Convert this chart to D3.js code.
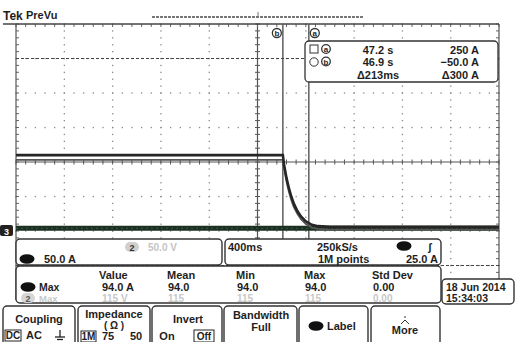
<!DOCTYPE html>
<html><head><meta charset="utf-8">
<script src="https://cdn.jsdelivr.net/npm/d3@7"></script>
<style>
html,body{margin:0;padding:0;background:#fff;}
svg text{font-family:"Liberation Sans",Arial,sans-serif;font-weight:bold;fill:#1e1e1e;}
</style></head>
<body><svg id="c" width="524" height="342"></svg>
<script>
// ---- data ----
const timeDivSec = 0.4;              // 400 ms / div
const ampsPerDiv = 50;               // 50.0 A / div
const traceTime = [0, 2.21, 2.22, 2.24, 2.26, 2.28, 2.30, 2.33, 2.36, 2.40, 2.45, 2.50, 2.60, 4.0];
const ch1Max    = [110, 110, 96, 77, 62, 50, 40, 29, 21, 14, 9, 7, 6, 6];
const ch1Min    = [103, 103, 92, 72, 57, 45, 35, 25, 17, 10, 5, 3, 2, 2];
const ch3Time   = [0, 4.0];
const ch3Amps   = [4, 4];
const cursorTimes = [2.425, 2.21];   // a, b
const cursorAmps  = [250, -50];      // a, b
const cursorNames = ["a", "b"];
const cursorReadTime = ["47.2 s", "46.9 s", "\u0394213ms"];
const cursorReadAmp  = ["250 A", "\u221250.0 A", "\u0394300 A"];
const measHeaders = ["Value", "Mean", "Min", "Max", "Std Dev"];
const measRow1 = ["94.0 A", "94.0", "94.0", "94.0", "0.00"];
const measRow2 = ["115 V", "115", "115", "115", "0.00"];
const buttonLabels = ["Coupling", "Impedance", "Invert", "Bandwidth", "Label", "More"];

const svg = d3.select("#c");
svg.append("rect").attr("width",524).attr("height",342).attr("fill","#fff");

const x = d3.scaleLinear().domain([0, 10*timeDivSec]).range([16, 499]);
const yDiv = d3.scaleLinear().domain([-4, 4]).range([300, 24]);
const yA = d3.scaleLinear().domain([-2*ampsPerDiv, 6*ampsPerDiv]).range([300, 24]);

// ---- graticule ----
const g = svg.append("g");
const dots = [];
for (let i = 1; i < 10; i++) {
  if (i === 5) continue;
  for (let k = 0; k <= 40; k++) dots.push([x(i*timeDivSec), yDiv(-4 + k/5)]);
}
for (let j = -3; j <= 3; j++) {
  if (j === 0) continue;
  for (let k = 0; k <= 50; k++) dots.push([x(k/5*timeDivSec), yDiv(j)]);
}
g.selectAll("rect.dot").data(dots).enter().append("rect")
  .attr("x", d => d[0]-0.6).attr("y", d => d[1]-0.6).attr("width",1.3).attr("height",1.3).attr("fill","#8a8a8a");
// center axes
g.append("line").attr("x1",x(0)).attr("x2",x(4)).attr("y1",yDiv(0)).attr("y2",yDiv(0)).attr("stroke","#555").attr("stroke-width",1.2);
g.append("line").attr("x1",x(2)).attr("x2",x(2)).attr("y1",yDiv(4)).attr("y2",yDiv(-4)).attr("stroke","#555").attr("stroke-width",1.2);
const ticksH = d3.range(0, 51).map(k => k/5*timeDivSec);
const ticksV = d3.range(0, 41).map(k => -4 + k/5);
g.selectAll("line.th").data(ticksH).enter().append("line")
  .attr("x1", d=>x(d)).attr("x2", d=>x(d)).attr("y1", yDiv(0)-2.5).attr("y2", yDiv(0)+2.5).attr("stroke","#555");
g.selectAll("line.tv").data(ticksV).enter().append("line")
  .attr("y1", d=>yDiv(d)).attr("y2", d=>yDiv(d)).attr("x1", x(2)-2.5).attr("x2", x(2)+2.5).attr("stroke","#555");
// border ticks
g.selectAll("line.bt").data(ticksH).enter().append("line")
  .attr("x1", d=>x(d)).attr("x2", d=>x(d)).attr("y1", yDiv(4)).attr("y2", yDiv(4)+3).attr("stroke","#666");
g.selectAll("line.bl").data(ticksV).enter().append("line")
  .attr("y1", d=>yDiv(d)).attr("y2", d=>yDiv(d)).attr("x1", x(0)).attr("x2", x(0)+3).attr("stroke","#666");
g.selectAll("line.br").data(ticksV).enter().append("line")
  .attr("y1", d=>yDiv(d)).attr("y2", d=>yDiv(d)).attr("x1", x(4)-3).attr("x2", x(4)).attr("stroke","#666");
g.append("line").attr("x1",3).attr("x2",x(4)).attr("y1",yDiv(4)).attr("y2",yDiv(4)).attr("stroke","#444").attr("stroke-width",1.5);
g.append("line").attr("x1",x(0)).attr("x2",x(0)).attr("y1",yDiv(4)).attr("y2",yDiv(-4)).attr("stroke","#555").attr("stroke-width",1.2);
g.append("line").attr("x1",x(4)).attr("x2",x(4)).attr("y1",yDiv(4)).attr("y2",yDiv(-4)).attr("stroke","#555").attr("stroke-width",1.2);

// ---- cursors ----
cursorTimes.forEach((t,i) => {
  svg.append("line").attr("x1",x(t)).attr("x2",x(t)).attr("y1",yDiv(4)).attr("y2",yDiv(-4))
    .attr("stroke","#5e5e5e").attr("stroke-width",1.5);
});
cursorAmps.forEach((a,i) => {
  svg.append("line").attr("x1",x(0)).attr("x2",x(4)).attr("y1",yA(a)).attr("y2",yA(a))
    .attr("stroke","#444").attr("stroke-width",1.2).attr("stroke-dasharray","3,2");
});
// cursor name badges
const badgeX = {a: x(cursorTimes[0])+6, b: x(cursorTimes[1])-6};
cursorNames.forEach(n => {
  const bx = badgeX[n];
  svg.append("circle").attr("cx",bx).attr("cy",33).attr("r",4.5).attr("fill","#fff").attr("stroke","#333").attr("stroke-width",1.3);
  svg.append("text").attr("x",bx).attr("y",36).attr("text-anchor","middle").attr("font-size",8).text(n);
});

// ---- traces ----
const ch1Data = traceTime.map((t,i)=>({t, hi:ch1Max[i], lo:ch1Min[i]}));
svg.append("path").datum(ch3Time.map((t,i)=>({t, v:ch3Amps[i]})))
  .attr("d", d3.line().x(d=>x(d.t)).y(d=>yA(d.v)))
  .attr("fill","none").attr("stroke","#1b3021").attr("stroke-width",5);
svg.append("path").datum(ch3Time.map((t,i)=>({t, v:ch3Amps[i]})))
  .attr("d", d3.line().x(d=>x(d.t)).y(d=>yA(d.v)))
  .attr("fill","none").attr("stroke","#3d5a44").attr("stroke-width",1).attr("stroke-dasharray","2,3");
svg.append("path").datum(ch1Data)
  .attr("d", d3.line().x(d=>x(d.t)).y(d=>yA(d.lo)))
  .attr("fill","none").attr("stroke","#555").attr("stroke-width",1.8);
svg.append("path").datum(ch1Data)
  .attr("d", d3.line().x(d=>x(d.t)).y(d=>yA(d.hi)))
  .attr("fill","none").attr("stroke","#262626").attr("stroke-width",2.6);

// ground marker
svg.append("rect").attr("x",0).attr("y",yA(0)-6).attr("width",13).attr("height",11).attr("rx",2).attr("fill","#222");
svg.append("text").attr("x",6.5).attr("y",yA(0)+3.5).attr("text-anchor","middle").attr("font-size",9).style("fill","#fff").text("3");

// ---- header ----
svg.append("text").attr("x",3).attr("y",20).attr("font-size",12).style("font-weight","900").text("Tek");
svg.append("text").attr("x",26).attr("y",19).attr("font-size",11).text("PreVu");
svg.append("line").attr("x1",152).attr("x2",363).attr("y1",17).attr("y2",17).attr("stroke","#777").attr("stroke-width",2).attr("stroke-dasharray","3,1");
svg.append("line").attr("x1",258).attr("x2",258).attr("y1",12).attr("y2",17).attr("stroke","#777").attr("stroke-width",1);

// ---- cursor readout box ----
svg.append("rect").attr("x",305).attr("y",41).attr("width",193).attr("height",41).attr("rx",4)
  .attr("fill","#fff").attr("stroke","#333").attr("stroke-width",1.3);
svg.append("rect").attr("x",310).attr("y",45).attr("width",8).attr("height",8).attr("fill","none").attr("stroke","#333");
svg.append("circle").attr("cx",314).attr("cy",62).attr("r",4.2).attr("fill","none").attr("stroke","#333");
["a","b"].forEach((n,i)=>{
  svg.append("circle").attr("cx",326).attr("cy",49+i*12.5).attr("r",4.3).attr("fill","#fff").attr("stroke","#333").attr("stroke-width",1.3);
  svg.append("text").attr("x",326).attr("y",52+i*12.5).attr("text-anchor","middle").attr("font-size",8).text(n);
});
cursorReadTime.forEach((s,i)=>svg.append("text").attr("x",378).attr("y",53.5+i*12.5).attr("text-anchor","middle").attr("font-size",11).text(s));
cursorReadAmp.forEach((s,i)=>svg.append("text").attr("x",479).attr("y",53.5+i*12.5).attr("text-anchor","end").attr("font-size",11).text(s));

// ---- bottom readouts ----
function box(x0,y0,w,h){ svg.append("rect").attr("x",x0).attr("y",y0).attr("width",w).attr("height",h).attr("rx",4)
  .attr("fill","#fff").attr("stroke","#333").attr("stroke-width",1.4); }
function oval(cx,cy){ svg.append("ellipse").attr("cx",cx).attr("cy",cy).attr("rx",7.5).attr("ry",4.8).attr("fill","#111"); }
function badge(cx,cy,fill,txt,tf){ svg.append("rect").attr("x",cx-7).attr("y",cy-5).attr("width",14).attr("height",10).attr("rx",5).attr("fill",fill);
  svg.append("text").attr("x",cx).attr("y",cy+3.5).attr("text-anchor","middle").attr("font-size",9).style("fill",tf).text(txt); }
const wTxt = (x0,y0,s,opt={}) => svg.append("text").attr("x",x0).attr("y",y0).attr("font-size",opt.fs||11)
  .attr("text-anchor",opt.anchor||"start").style("fill",opt.fill||"#1e1e1e").text(s);

// channel box
box(16,239,206,26);
badge(132,247,"#cfcfcf","2","#333");
wTxt(148,251,"50.0 V",{fill:"#c4c4c4",fs:10});
oval(27,259);
wTxt(44,263,"50.0 A");
// timebase box
box(225,239,216,26);
wTxt(228,251,"400ms");
wTxt(317,251,"250kS/s");
wTxt(318,263,"1M points");
oval(404,246);
wTxt(428,251,"\u0283",{fs:11});
wTxt(438,263,"25.0 A",{anchor:"end"});
// measurement box
box(16,266,425,37);
const colX = [99,167,236,304,372];
measHeaders.forEach((s,i)=>wTxt(colX[i],279,s));
oval(28,287);
wTxt(39,291,"Max",{fs:10.5});
measRow1.forEach((s,i)=>wTxt(colX[i]+(i===0?3:1),291,s));
badge(28,298,"#d6d6d6","2","#555");
wTxt(39,302,"Max",{fill:"#c8c8c8",fs:9.5});
measRow2.forEach((s,i)=>wTxt(colX[i]+(i===0?3:1),302,s,{fill:"#c8c8c8",fs:10}));
// date box
box(442,279,72,25);
wTxt(446,291,"18 Jun  2014",{fs:10.5});
wTxt(446,302,"15:34:03",{fs:10.5});

// ---- buttons ----
const btnX = [[3,75],[78,150],[152,222],[224,297],[299,368],[371,440]];
btnX.forEach(b=>box(b[0],306,b[1]-b[0],45));
wTxt(39,323,buttonLabels[0],{anchor:"middle"});
svg.append("rect").attr("x",5).attr("y",330).attr("width",16).attr("height",11).attr("fill","none").attr("stroke","#222");
wTxt(13,339,"DC",{anchor:"middle",fs:10});
wTxt(34,339,"AC",{anchor:"middle"});
// ground symbol
svg.append("line").attr("x1",60).attr("x2",60).attr("y1",330).attr("y2",337).attr("stroke","#222").attr("stroke-width",1.3);
svg.append("line").attr("x1",55).attr("x2",65).attr("y1",337).attr("y2",337).attr("stroke","#222").attr("stroke-width",1.3);
svg.append("line").attr("x1",57).attr("x2",63).attr("y1",339.5).attr("y2",339.5).attr("stroke","#222").attr("stroke-width",1.3);
wTxt(114,318,buttonLabels[1],{anchor:"middle"});
wTxt(114,329,"( \u03A9 )",{anchor:"middle",fs:10});
svg.append("rect").attr("x",81).attr("y",331).attr("width",15).attr("height",11).attr("fill","none").attr("stroke","#222");
wTxt(88.5,340,"1M",{anchor:"middle",fs:10});
wTxt(108,340,"75",{anchor:"middle"});
wTxt(136,340,"50",{anchor:"middle"});
wTxt(188,323,buttonLabels[2],{anchor:"middle"});
wTxt(167,340,"On",{anchor:"middle"});
svg.append("rect").attr("x",194).attr("y",330).attr("width",20).attr("height",12).attr("fill","none").attr("stroke","#222");
wTxt(204,340,"Off",{anchor:"middle",fs:10});
wTxt(261,319,buttonLabels[3],{anchor:"middle"});
wTxt(261,331,"Full",{anchor:"middle"});
oval(316,326);
wTxt(327,330,buttonLabels[4]);
wTxt(405,334,buttonLabels[5],{anchor:"middle"});
svg.append("path").attr("d","M401,324 L405,320 L409,324 M405,318 L405,316").attr("fill","none").attr("stroke","#333").attr("stroke-width",1);
</script></body></html>
